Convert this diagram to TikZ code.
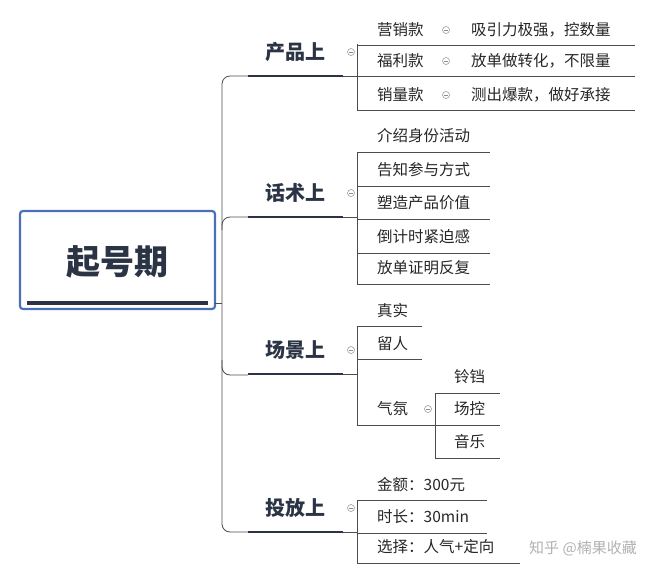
\documentclass[tikz,border=0pt]{standalone}
\usepackage{fontspec}
\newfontfamily\cjk{Noto Sans CJK SC}
\definecolor{navy}{HTML}{2B3445}
\definecolor{rb}{HTML}{4A70B8}
\begin{document}
\begin{tikzpicture}[x=1pt,y=-1pt,
  ln/.style={draw=black!70,line width=0.8pt},
  ul/.style={draw=navy,line width=2.4pt},
  txt/.style={font=\cjk\fontsize{15.5}{18}\selectfont,text=black!85,inner sep=0pt,anchor=west},
  lab/.style={font=\cjk\bfseries\fontsize{20}{24}\selectfont,text=navy,inner sep=0pt},
  mn/.style={draw=black!45,circle,inner sep=0pt,minimum size=7pt,line width=0.5pt,
    path picture={\draw[black!45,line width=0.5pt] ([xshift=-2pt]path picture bounding box.center)--([xshift=2pt]path picture bounding box.center);}}]
\useasboundingbox (0,0) rectangle (645,576);
% root
\node[draw=rb,line width=2.2pt,rounded corners=3pt,minimum width=195pt,minimum height=98pt] (root) at (117.5,260) {};
\node[font=\cjk\bfseries\fontsize{34}{38}\selectfont,text=navy] (rt) at (117,262) {起号期};
\draw[ul,line width=3.2pt] (27,303) -- (208,303);
% trunk
\draw[ln,rounded corners=8pt] (248,76) -- (222,76) -- (222,532) -- (248,532);
\draw[ln] (215,303) -- (222,303);
\draw[ln,rounded corners=8pt] (222,230) -- (222,217) -- (248,217);
\draw[ln,rounded corners=8pt] (222,360) -- (222,375) -- (248,375);
% branch labels
\foreach \n/\t/\y in {b1/产品上/52,b2/话术上/193,b3/场景上/350,b4/投放上/508}{
  \node[lab] (\n) at (295,\y) {\t};
  \pgfmathsetmacro\u{\y+24}
  \draw[ul] (248,\u) -- (343,\u);
  \draw[ln] (343,\u) -- (357,\u);
  \node[mn] at (351,\y) {};
}
% 产品上 children
\draw[ln] (357,44) -- (357,110);
\foreach \a/\b/\y in {营销款/吸引力极强，控数量/30,福利款/放单做转化，不限量/61,销量款/测出爆款，做好承接/95}{
  \node[txt] at (377,\y) {\a};
  \node[mn] at (446,\y) {};
  \node[txt] at (471,\y) {\b};
  \pgfmathsetmacro\u{\y+15}
  \draw[ln] (357,\u) -- (635,\u);
}
% 话术上
\draw[ln] (357,152) -- (357,285);
\foreach \a/\y in {介绍身份活动/136,告知参与方式/170,塑造产品价值/203,倒计时紧迫感/237,放单证明反复/268}{
  \node[txt] at (377,\y) {\a};
  \pgfmathsetmacro\u{\y+16}
  \draw[ln] (357,\u) -- (490,\u);
}
% 场景上
\draw[ln] (357,326) -- (357,425);
\node[txt] at (377,311) {真实}; \draw[ln] (357,326) -- (422,326);
\node[txt] at (377,344) {留人}; \draw[ln] (357,359) -- (422,359);
\node[txt] at (377,409) {气氛}; \draw[ln] (357,425) -- (435,425);
\node[mn] at (428,409) {};
\draw[ln] (435,393) -- (435,458);
\foreach \a/\y in {铃铛/377,场控/409,音乐/442}{
  \node[txt] at (454,\y) {\a};
  \pgfmathsetmacro\u{\y+16}
  \draw[ln] (435,\u) -- (500,\u);
}
% 投放上
\draw[ln] (357,500) -- (357,563);
\node[txt] at (377,485) {金额：300元}; \draw[ln] (357,500) -- (487,500);
\node[txt] at (377,517) {时长：30min}; \draw[ln] (357,533) -- (487,533);
\node[txt] at (377,547) {选择：人气+定向}; \draw[ln] (357,563) -- (520,563);
% watermark
\node[font=\cjk\fontsize{15}{18}\selectfont,text=black!30,inner sep=0pt] (wm) at (583,548) {知乎 @楠果收藏};
\end{tikzpicture}
\end{document}
